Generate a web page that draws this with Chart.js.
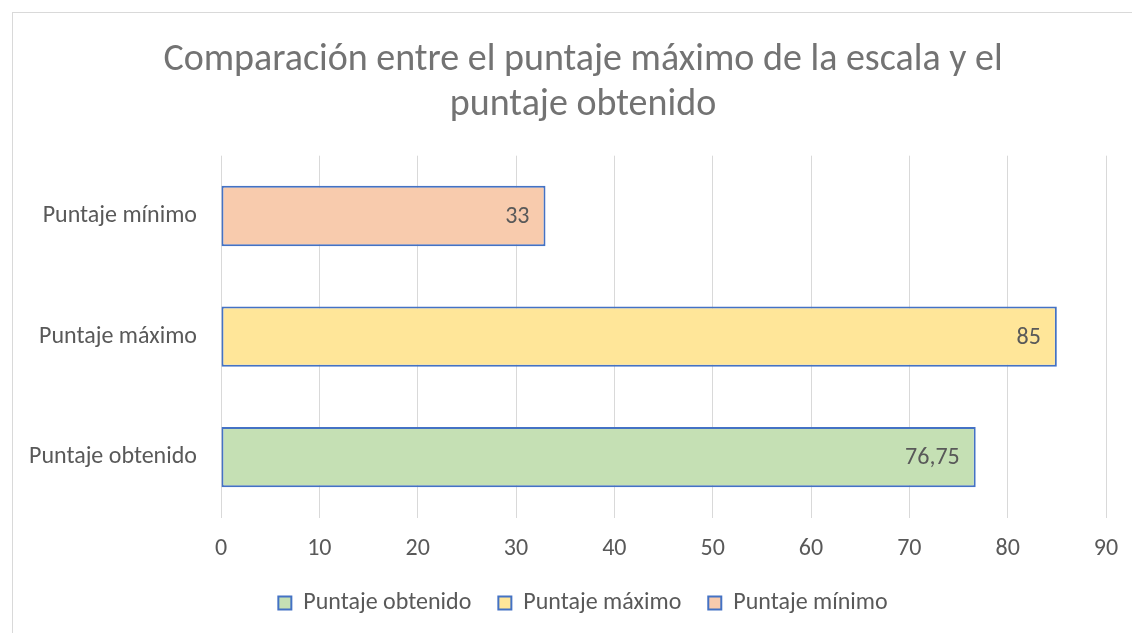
<!DOCTYPE html>
<html>
<head>
<meta charset="utf-8">
<script src="https://cdn.jsdelivr.net/npm/chart.js@4/dist/chart.umd.min.js"></script>
<style>
  html, body { margin: 0; padding: 0; background: #fff; overflow: hidden; }
  #wrap { position: relative; width: 1132px; height: 633px; }
  #frame { position: absolute; left: 12px; top: 12px; width: 1200px; height: 700px; border: 1px solid #d9d9d9; pointer-events: none; }
  canvas { position: absolute; left: 0; top: 0; }
</style>
</head>
<body>
<div id="wrap">
  <canvas id="c" width="1132" height="633"></canvas>
  <div id="frame"></div>
</div>
<script>
const titleLines = ['Comparación entre el puntaje máximo de la escala y el', 'puntaje obtenido'];
const categories = ['Puntaje obtenido', 'Puntaje máximo', 'Puntaje mínimo'];
const seriesNames = ['Puntaje obtenido', 'Puntaje máximo', 'Puntaje mínimo'];
const obtenidoValues = [76.75, null, null];
const maximoValues = [null, 85, null];
const minimoValues = [null, null, 33];
const xTicks = [0, 10, 20, 30, 40, 50, 60, 70, 80, 90];
const fillColors = ['#C5E0B4', '#FFE699', '#F8CBAD'];

const FONT = 'Carlito, Lato, "Open Sans", sans-serif';
const GRAY = '#595959';
const FS = 24;

const labelPlugin = {
  id: 'barLabels',
  afterLayout(chart) {
    // let the category labels extend into the left margin without being clipped
    if (chart.scales.y) chart.scales.y.left = 12;
  },
  afterDatasetsDraw(chart) {
    const ctx = chart.ctx;
    ctx.save();
    ctx.font = FS + 'px ' + FONT;
    ctx.fillStyle = GRAY;
    ctx.textAlign = 'right';
    ctx.textBaseline = 'middle';
    chart.data.datasets.forEach((ds, di) => {
      const meta = chart.getDatasetMeta(di);
      meta.data.forEach((el, i) => {
        const v = ds.data[i];
        if (v === null || v === undefined) return;
        const txt = String(v).replace('.', ',');
        ctx.fillText(txt, el.x - 16, el.y + 1);
      });
    });
    ctx.restore();
  }
};

const mk = (name, data, color) => ({
  label: name,
  data: data,
  backgroundColor: color,
  borderColor: '#4472C4',
  borderWidth: 2,
  borderSkipped: false,
  grouped: false,
  categoryPercentage: 1,
  barPercentage: 0.5
});

new Chart(document.getElementById('c'), {
  type: 'bar',
  data: {
    labels: categories,
    datasets: [
      mk(seriesNames[0], obtenidoValues, fillColors[0]),
      mk(seriesNames[1], maximoValues, fillColors[1]),
      mk(seriesNames[2], minimoValues, fillColors[2])
    ]
  },
  plugins: [labelPlugin],
  options: {
    indexAxis: 'y',
    responsive: false,
    animation: false,
    layout: { padding: { left: 60, right: 26, top: 0, bottom: 8 } },
    plugins: {
      tooltip: { enabled: false },
      title: {
        display: true,
        text: titleLines,
        color: '#737373',
        font: { family: FONT, size: 38, weight: '300', lineHeight: 1.18 },
        padding: { top: 38, bottom: 28 }
      },
      legend: {
        position: 'bottom',
        labels: {
          color: GRAY,
          font: { family: FONT, size: FS },
          boxWidth: 13,
          boxHeight: 13,
          padding: 27
        }
      }
    },
    scales: {
      x: {
        type: 'linear',
        min: 0,
        max: 90,
        afterBuildTicks(scale) { scale.ticks = xTicks.map(v => ({ value: v })); },
        grid: { color: '#d9d9d9', lineWidth: 1, drawTicks: false },
        border: { display: false },
        ticks: { color: GRAY, font: { family: FONT, size: FS }, padding: 17 },
        afterFit(scale) { scale.height = 46.5; scale.paddingLeft = 0; scale.paddingRight = 0; }
      },
      y: {
        reverse: true,
        grid: { display: false },
        border: { display: false },
        ticks: { color: GRAY, font: { family: FONT, size: FS }, padding: 16 },
        afterFit(scale) { scale.width = 161; }
      }
    }
  }
});
</script>
</body>
</html>
